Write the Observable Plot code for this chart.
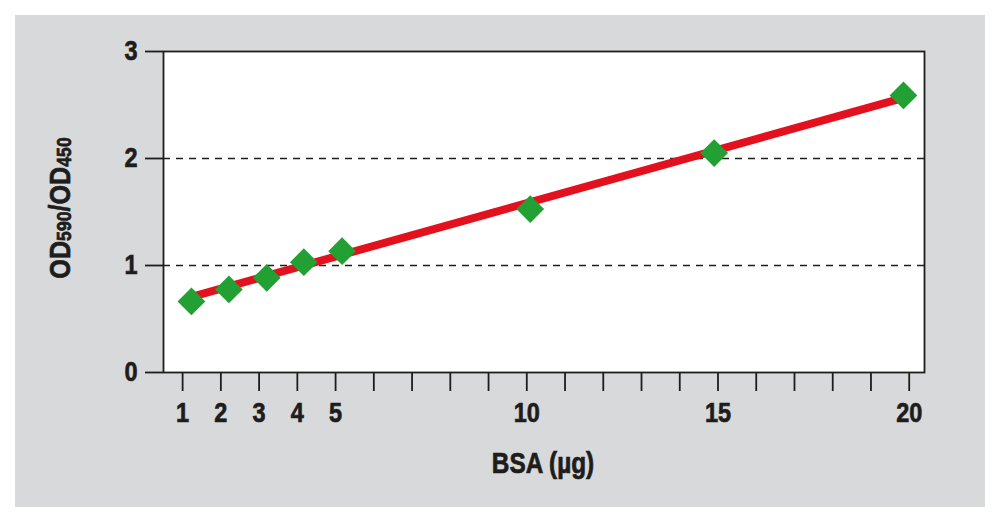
<!DOCTYPE html>
<html>
<head>
<meta charset="utf-8">
<script src="https://cdn.jsdelivr.net/npm/d3@7"></script>
<script src="https://cdn.jsdelivr.net/npm/@observablehq/plot@0.6"></script>
<style>
  html, body { margin: 0; padding: 0; background: #ffffff; }
  #panel { position: absolute; left: 15px; top: 15px; width: 970px; height: 492px; background: #d8d9db; }
</style>
</head>
<body>
<div id="panel"></div>
<script>
// Data
const bsa = [1.23, 2.21, 3.20, 4.17, 5.17, 10.09, 14.90, 19.85];   // BSA (µg), as plotted
const od  = [0.664, 0.776, 0.885, 1.031, 1.134, 1.528, 2.051, 2.589]; // OD590/OD450
const fitX = [1.14, 19.92];
const fitY = [0.698, 2.573];
const xTicks = d3.range(1, 21);
const xTickLabels = [1, 2, 3, 4, 5, 10, 15, 20];
const yTicks = [0, 1, 2, 3];
const gridLines = [1, 2];

const points = bsa.map((x, i) => ({x, y: od[i]}));
const fit = fitX.map((x, i) => ({x, y: fitY[i]}));

const FONT = "'Liberation Sans', Arial, sans-serif";
const INK = "#1d1d1b";
const SQUEEZE = " scale(0.84,1)";

const chart = Plot.plot({
  width: 970,
  height: 492,
  marginLeft: 148,
  marginTop: 36,
  marginRight: 61,
  marginBottom: 135,
  style: {background: "transparent", fontFamily: FONT, fontWeight: "bold", color: INK, overflow: "visible"},
  x: {domain: [0.5, 20.4]},
  y: {domain: [0, 3]},
  marks: [
    Plot.frame({fill: "white", stroke: null}),
    Plot.ruleY(gridLines, {stroke: INK, strokeWidth: 1.5, strokeDasharray: "7,6"}),
    Plot.line(fit, {x: "x", y: "y", stroke: "#e3101d", strokeWidth: 8, strokeLinecap: "butt"}),
    Plot.dot(points, {x: "x", y: "y", symbol: "diamond2", r: 12.5, fill: "#23a034", stroke: null}),
    Plot.frame({stroke: INK, strokeWidth: 1.8}),
    Plot.axisY({ticks: yTicks, tickSize: 18, tickPadding: 8, fontSize: 28, fontWeight: "bold", strokeWidth: 1.8, stroke: INK, label: null, tickFormat: d => String(d)}),
    Plot.axisX({ticks: xTicks, tickSize: 19, tickPadding: 11, fontSize: 28, fontWeight: "bold", strokeWidth: 1.8, stroke: INK, label: null,
      tickFormat: d => xTickLabels.includes(d) ? String(d) : ""})
  ]
});

document.getElementById("panel").appendChild(chart);

const svg = d3.select(chart);

// X axis title
svg.append("text")
  .attr("transform", "translate(528,458)")
  .attr("text-anchor", "middle")
  .style("font-size", "29px")
  .text("BSA (µg)");
// Y axis title with subscripts
const yt = svg.append("text")
  .attr("transform", "translate(55,193) rotate(-90)")
  .attr("text-anchor", "middle")
  .style("font-size", "30px");
yt.append("tspan").text("OD");
yt.append("tspan").attr("dy", "0.05em").style("font-size", "21px").text("590");
yt.append("tspan").attr("dy", "-0.05em").text("/OD");
yt.append("tspan").attr("dy", "0.05em").style("font-size", "21px").text("450");

// condensed, heavy look of the original lettering (no narrow font available)
svg.selectAll("text").each(function() {
  const t = this.getAttribute("transform") || "";
  this.setAttribute("transform", t + SQUEEZE);
  this.setAttribute("fill", INK);
  this.setAttribute("stroke", INK);
  this.setAttribute("stroke-width", "0.7");
  this.style.fontFamily = FONT;
  this.style.fontWeight = "bold";
});
</script>
</body>
</html>
